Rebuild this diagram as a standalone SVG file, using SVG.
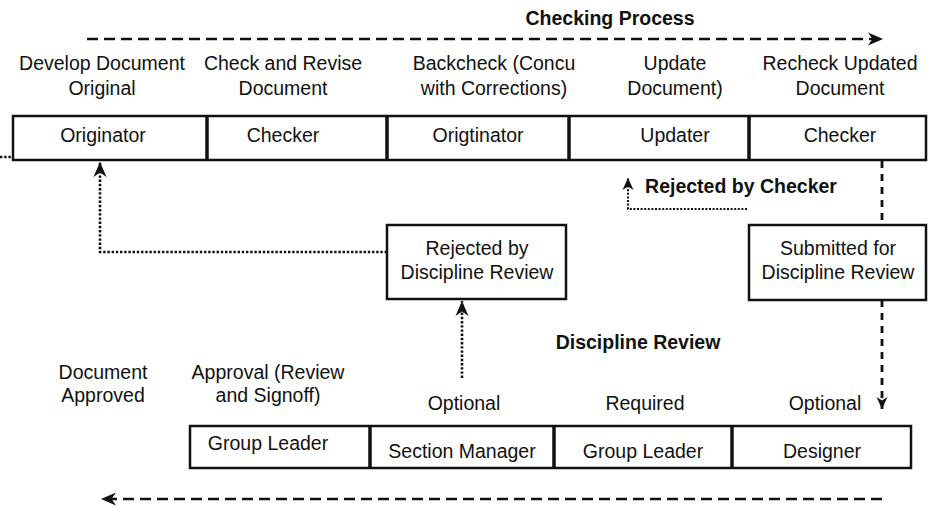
<svg xmlns="http://www.w3.org/2000/svg" width="928" height="507" viewBox="0 0 928 507">
<style>
text{font-family:"Liberation Sans",Arial,sans-serif;font-size:19.5px;fill:#111;text-anchor:middle}
.b{font-weight:bold}
.box{fill:#fff;stroke:#111;stroke-width:2.5}
.div{stroke:#111;stroke-width:3.5}
.dash{fill:none;stroke:#111;stroke-width:2.4;stroke-dasharray:11 6}
.vdash{fill:none;stroke:#111;stroke-width:2.8;stroke-dasharray:7 6}
.dot{fill:none;stroke:#111;stroke-width:2.6;stroke-dasharray:2.4 1.8}
.dotthin{fill:none;stroke:#111;stroke-width:2;stroke-dasharray:2 1.6}
</style>
<defs>
<marker id="ah" markerUnits="userSpaceOnUse" markerWidth="16" markerHeight="14" refX="15" refY="7" orient="auto">
<path d="M0,0.5 L15,7 L0,13.5 L4.5,7 z" fill="#111"/>
</marker>
<marker id="ahs" markerUnits="userSpaceOnUse" markerWidth="13" markerHeight="12" refX="12" refY="6" orient="auto">
<path d="M0,0.5 L12,6 L0,11.5 L3.5,6 z" fill="#111"/>
</marker>
</defs>

<text class="b" x="610" y="25">Checking Process</text>

<g id="top-labels">
<text x="102" y="70">Develop Document</text><text x="102" y="95">Original</text>
<text x="283" y="70">Check and Revise</text><text x="283" y="95">Document</text>
<text x="494" y="70">Backcheck (Concu</text><text x="494" y="95">with Corrections)</text>
<text x="675" y="70">Update</text><text x="675" y="95">Document)</text>
<text x="840" y="70">Recheck Updated</text><text x="840" y="95">Document</text>
</g>

<g id="checking-row">
<rect class="box" x="13" y="116" width="913" height="44"/>
<line class="div" x1="207" y1="116" x2="207" y2="160"/>
<line class="div" x1="387" y1="116" x2="387" y2="160"/>
<line class="div" x1="569" y1="116" x2="569" y2="160"/>
<line class="div" x1="749" y1="116" x2="749" y2="160"/>
</g>
<g id="originator"><text x="103" y="142">Originator</text></g>
<g id="checker"><text x="283" y="142">Checker</text></g>
<g id="origtinator"><text x="478" y="142">Origtinator</text></g>
<g id="updater"><text x="675" y="142">Updater</text></g>
<g id="checker2"><text x="840" y="142">Checker</text></g>

<g id="rejected-discipline">
<rect class="box" x="387" y="225" width="179" height="74"/>
<text x="477" y="255">Rejected by</text>
<text x="477" y="279">Discipline Review</text>
</g>
<g id="submitted">
<rect class="box" x="749" y="225" width="177" height="75"/>
<text x="838" y="255">Submitted for</text>
<text x="838" y="279">Discipline Review</text>
</g>

<text class="b" x="741" y="193">Rejected by Checker</text>
<text class="b" x="638" y="349">Discipline Review</text>

<g id="bottom-labels">
<text x="103" y="379">Document</text><text x="103" y="402">Approved</text>
<text x="268" y="379">Approval (Review</text><text x="268" y="402">and Signoff)</text>
<text x="464" y="410">Optional</text>
<text x="645" y="410">Required</text>
<text x="825" y="410">Optional</text>
</g>

<g id="review-row">
<rect class="box" x="190" y="426" width="721" height="42"/>
<line class="div" x1="370" y1="426" x2="370" y2="468"/>
<line class="div" x1="554" y1="426" x2="554" y2="468"/>
<line class="div" x1="732" y1="426" x2="732" y2="468"/>
</g>
<g id="group-leader-1"><text x="268" y="450">Group Leader</text></g>
<g id="section-manager"><text x="462" y="458">Section Manager</text></g>
<g id="group-leader-2"><text x="643" y="458">Group Leader</text></g>
<g id="designer"><text x="822" y="458">Designer</text></g>

<g id="connectors">
<path class="dash" d="M87,39 H883" marker-end="url(#ah)"/>
<path class="dash" d="M882,499 H101" marker-end="url(#ah)"/>
<path class="dot" d="M0,157 H12"/>
<path class="dot" d="M387,252 H100 V162" marker-end="url(#ah)"/>
<path class="dot" d="M462,378 V301" marker-end="url(#ah)"/>
<path class="dotthin" d="M747,209 H628 V178" marker-end="url(#ahs)"/>
<path class="vdash" d="M882,161 V225"/>
<path class="vdash" d="M882,300 V409" marker-end="url(#ahs)"/>
</g>
</svg>
